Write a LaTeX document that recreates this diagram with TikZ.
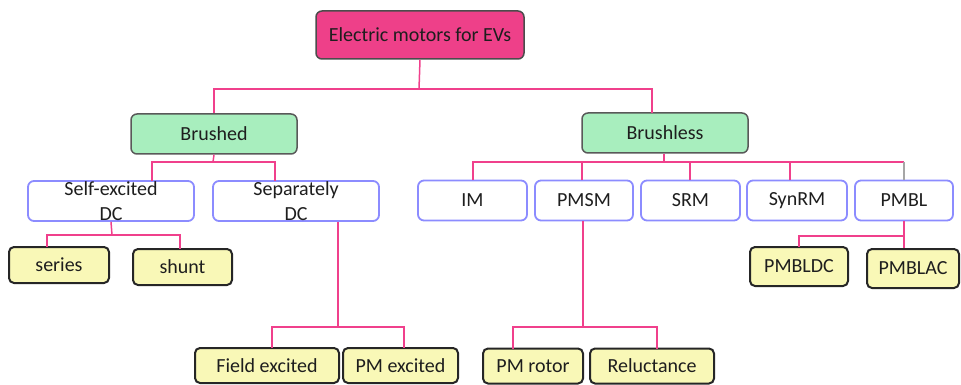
\documentclass[tikz,border=0pt]{standalone}
\usepackage{fontspec}
\setmainfont{Carlito}
\definecolor{rootfill}{RGB}{238,64,137}
\definecolor{greenfill}{RGB}{168,238,190}
\definecolor{bluedraw}{RGB}{140,140,255}
\definecolor{yellowfill}{RGB}{249,248,183}
\definecolor{connpink}{RGB}{240,64,140}
\definecolor{txt}{RGB}{30,30,30}
\begin{document}
\begin{tikzpicture}[x=1pt,y=-1pt,
  every node/.style={font=\fontsize{20}{25}\selectfont, text=txt, inner sep=0pt, align=center},
  rootbox/.style={draw=black!70, line width=1.5pt, fill=rootfill, rounded corners=6pt, minimum width=208pt, minimum height=48pt},
  greenbox/.style={draw=black!65, line width=1.5pt, fill=greenfill, rounded corners=6pt, minimum width=166pt, minimum height=40pt},
  bluebox/.style={draw=bluedraw, line width=1.8pt, fill=white, rounded corners=6pt, minimum height=40pt},
  yellowbox/.style={draw=black!85, line width=2pt, fill=yellowfill, rounded corners=5pt, minimum height=37pt},
  conn/.style={draw=connpink, line width=1.5pt}]
\useasboundingbox (0,0) rectangle (961,385);
% nodes
\node[rootbox] (root) at (420,35) {Electric motors for EVs};
\node[greenbox] (brushed) at (214,134) {Brushed};
\node[greenbox] (brushless) at (665,133) {Brushless};
\node[bluebox, minimum width=166pt] (self) at (111,201) {Self-excited\\DC};
\node[bluebox, minimum width=166pt] (sep) at (296,201) {Separately\\DC};
\node[bluebox, minimum width=109pt] (im) at (472.5,200.5) {IM};
\node[bluebox, minimum width=98pt] (pmsm) at (584,200.5) {PMSM};
\node[bluebox, minimum width=99pt] (srm) at (690.5,200.5) {SRM};
\node[bluebox, minimum width=100pt] (synrm) at (797,200.5) {SynRM};
\node[bluebox, minimum width=98pt] (pmbl) at (904,200.5) {PMBL};
\node[yellowbox, minimum width=100pt, minimum height=36pt] (series) at (59,265) {series};
\node[yellowbox, minimum width=99pt, minimum height=36pt] (shunt) at (182.5,267) {shunt};
\node[yellowbox, minimum width=144pt, minimum height=35pt] (field) at (267,365.5) {Field excited};
\node[yellowbox, minimum width=115pt, minimum height=35pt] (pmexc) at (400.5,365.5) {PM excited};
\node[yellowbox, minimum width=100pt, minimum height=35pt] (pmrotor) at (533,366) {PM rotor};
\node[yellowbox, minimum width=124pt, minimum height=35pt] (reluct) at (652,366) {Reluctance};
\node[yellowbox, minimum width=98pt, minimum height=39pt] (pmbldc) at (799,266.5) {PMBLDC};
\node[yellowbox, minimum width=92pt, minimum height=39pt] (pmblac) at (913,268.5) {PMBLAC};
% junction coordinates
\coordinate (j0) at (419,89);
\coordinate (blin) at (652,113);
\coordinate (j1) at (213,162);
\coordinate (selfin) at (152,181);
\coordinate (sepin) at (275,181);
\coordinate (j2) at (112,235);
\coordinate (seriesin) at (47,247);
\coordinate (shuntin) at (180,249);
\coordinate (j3) at (338,327);
\coordinate (fieldin) at (272,348);
\coordinate (pmexcin) at (404,348);
\coordinate (j4) at (664,162);
\coordinate (j4r) at (904,162);
\coordinate (imin) at (473,180);
\coordinate (pmsmin) at (582,180);
\coordinate (srmin) at (690,180);
\coordinate (synrmin) at (790,180);
\coordinate (j5) at (583,327);
\coordinate (pmrotorin) at (513,349);
\coordinate (reluctin) at (657,349);
\coordinate (j6) at (904,236);
\coordinate (pmbldcin) at (799,247);
% connectors
\draw[conn] (root.south) -- (j0);
\draw[conn] (brushed.north) |- (j0) -| (blin);
\draw[conn] (brushed.south) -- (j1);
\draw[conn] (selfin) |- (j1) -| (sepin);
\draw[conn] (self.south) -- (j2);
\draw[conn] (seriesin) |- (j2) -| (shuntin);
\draw[conn] (sep.south -| j3) -- (j3);
\draw[conn] (fieldin) |- (j3) -| (pmexcin);
\draw[conn] (brushless.south -| j4) -- (j4);
\draw[conn] (imin) |- (j4r);
\draw[conn] (pmsmin) -- (pmsmin |- j4);
\draw[conn] (srmin) -- (srmin |- j4);
\draw[conn] (synrmin) -- (synrmin |- j4);
\draw[draw=black!35, line width=1.5pt] (j4r) -- (pmbl.north);
\draw[conn] (pmsm.south -| j5) -- (j5);
\draw[conn] (pmrotorin) |- (j5) -| (reluctin);
\draw[conn] (pmbl.south) -- (j6);
\draw[conn] (pmbldcin) |- (j6) -- (pmblac.north -| j6);
\end{tikzpicture}
\end{document}
